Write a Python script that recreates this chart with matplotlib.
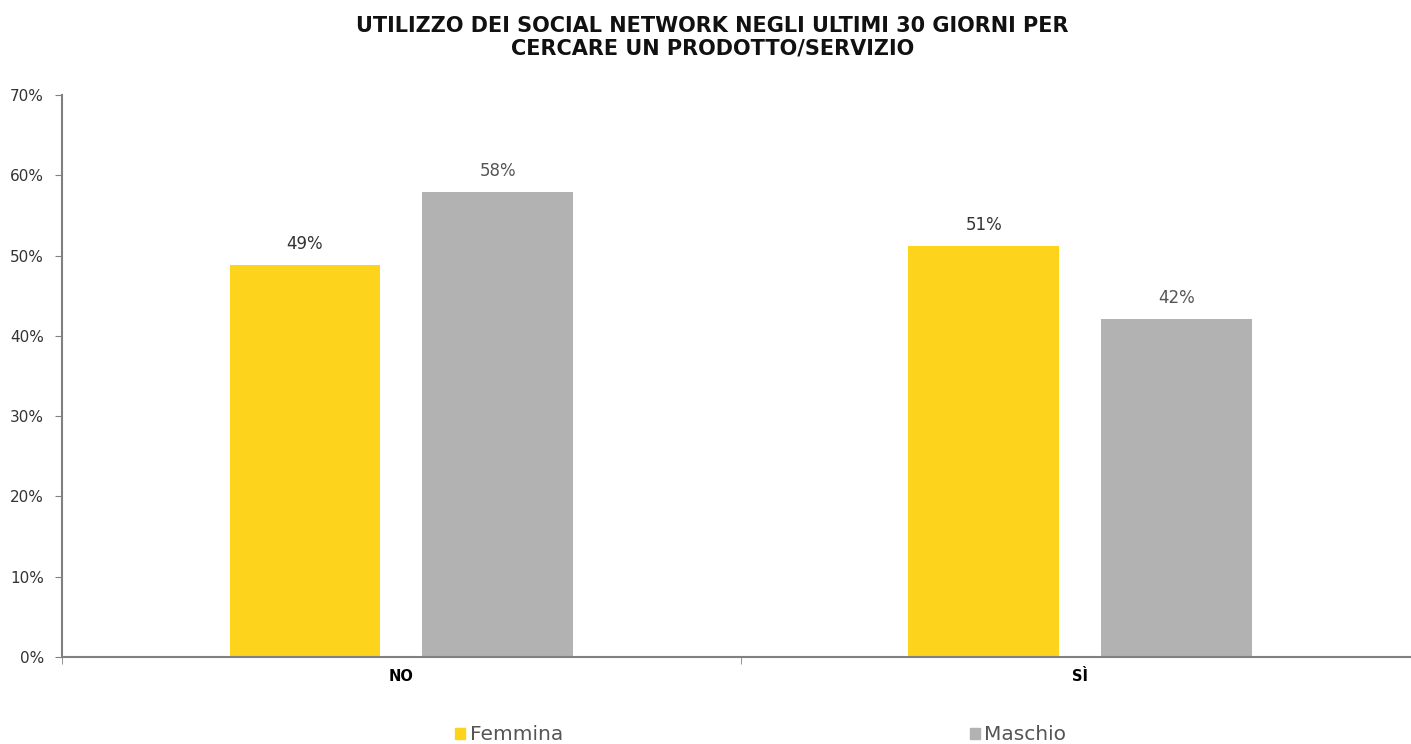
import matplotlib.pyplot as plt
from matplotlib.patches import Patch

categories = ["NO", "SÌ"]
femmina = [48.9, 51.2]
maschio = [58.0, 42.1]
labels_f = ["49%", "51%"]
labels_m = ["58%", "42%"]
yticks = [0, 10, 20, 30, 40, 50, 60, 70]

yellow = "#FDD31C"
grey = "#B2B2B2"

plt.rcParams['font.family'] = ['DejaVu Sans']

fig = plt.figure(figsize=(14.11, 7.44), dpi=100)
ax = fig.add_axes([0.044, 0.117, 0.962, 0.755])

x = list(range(len(categories)))
w = 0.222
xf = [i - 0.142 for i in x]
xm = [i + 0.142 for i in x]
bf = ax.bar(xf, femmina, width=w, color=yellow, label="Femmina")
bm = ax.bar(xm, maschio, width=w, color=grey, label="Maschio")

for b, t in zip(bf, labels_f):
    ax.text(b.get_x() + b.get_width() / 2, b.get_height() + 2.6, t,
            ha="center", va="center", fontsize=12, color="#333333")
for b, t in zip(bm, labels_m):
    ax.text(b.get_x() + b.get_width() / 2, b.get_height() + 2.6, t,
            ha="center", va="center", fontsize=12, color="#555555")

ax.set_xlim(-0.5, 1.5)
ax.set_ylim(0, 70)
ax.set_yticks(yticks)
ax.set_yticklabels([f"{v}%" for v in yticks], fontsize=11, color="#333333")
ax.set_xticks(x)
ax.set_xticklabels(categories, fontsize=10.5, fontweight="bold")
ax.set_xticks([-0.5, 0.5, 1.5], minor=True)
ax.tick_params(axis="x", which="major", length=0, pad=9)
ax.tick_params(axis="x", which="minor", length=5, color="#808080")
ax.tick_params(axis="y", length=5, color="#808080", pad=8)

for s in ["top", "right"]:
    ax.spines[s].set_visible(False)
for s in ["left", "bottom"]:
    ax.spines[s].set_color("#808080")
    ax.spines[s].set_linewidth(1.5)

fig.suptitle("UTILIZZO DEI SOCIAL NETWORK NEGLI ULTIMI 30 GIORNI PER\nCERCARE UN PRODOTTO/SERVIZIO",
             x=0.505, y=0.979, fontsize=15, fontweight="semibold", linespacing=1.2,
             color="#111111")

handles = [Patch(color=yellow), Patch(color=grey)]
fig.legend(handles, ["Femmina", "Maschio"], loc="lower center", ncol=2,
           bbox_to_anchor=(0.539, -0.025), frameon=False, fontsize=14.5,
           handlelength=0.5, handleheight=0.5, handletextpad=0.2,
           columnspacing=20.2, labelcolor="#555555")

fig.savefig("out.png", dpi=100)
